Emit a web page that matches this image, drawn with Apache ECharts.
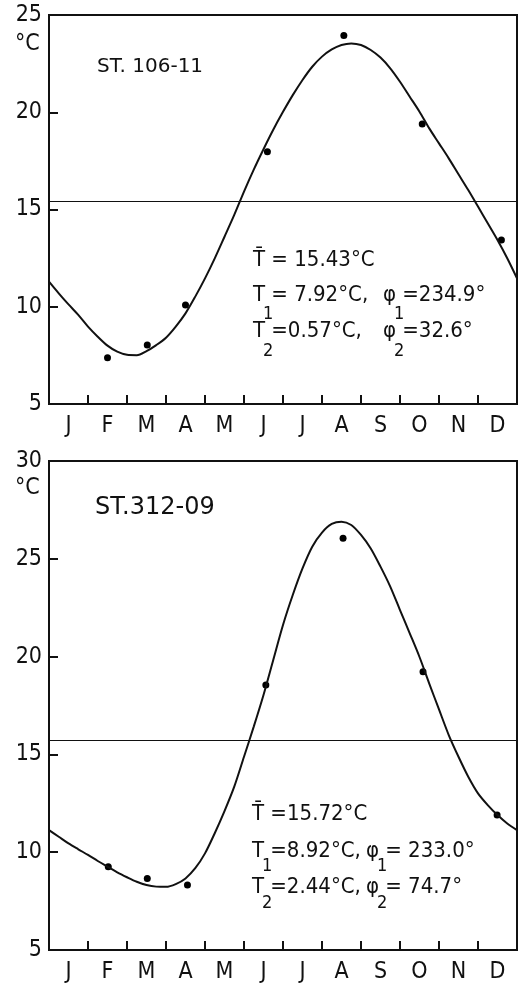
<!DOCTYPE html>
<html>
<head>
<meta charset="utf-8">
<script src="https://cdn.jsdelivr.net/npm/echarts@6/dist/echarts.min.js"></script>
<style>
  html, body { margin: 0; padding: 0; background: #fff; }
  #chart { width: 526px; height: 984px; }
</style>
</head>
<body>
<div id="chart"></div>
<script>
// Annual temperature cycles at two stations, observed monthly means + harmonic fit.
const MONTHS = ['J', 'F', 'M', 'A', 'M', 'J', 'J', 'A', 'S', 'O', 'N', 'D'];

// curve positions (months from 1 Jan), read every quarter month
const FIT_MONTH = [0, 0.25, 0.5, 0.75, 1, 1.25, 1.5, 1.75, 2, 2.25, 2.5, 2.75, 3, 3.25, 3.5, 3.75,
                   4, 4.25, 4.5, 4.75, 5, 5.25, 5.5, 5.75, 6, 6.25, 6.5, 6.75, 7, 7.25, 7.5, 7.75,
                   8, 8.25, 8.5, 8.75, 9, 9.25, 9.5, 9.75, 10, 10.25, 10.5, 10.75, 11, 11.25, 11.5, 11.75, 12];

// ST. 106-11 (top)
const OBS_MONTH_A = [1.5, 2.52, 3.5, 5.6, 7.56, 9.57, 11.6];
const OBS_TEMP_A  = [7.38, 8.03, 10.09, 17.97, 23.94, 19.4, 13.43];
const FIT_TEMP_A  = [11.29, 10.69, 10.12, 9.58, 8.98, 8.46, 8.0, 7.69, 7.53, 7.51, 7.72, 8.03, 8.41, 8.98, 9.66, 10.52,
                     11.46, 12.49, 13.6, 14.72, 15.92, 17.05, 18.1, 19.1, 20.02, 20.88, 21.66, 22.34, 22.86, 23.23, 23.46, 23.54,
                     23.46, 23.2, 22.81, 22.26, 21.57, 20.8, 20.03, 19.17, 18.4, 17.63, 16.81, 16.0, 15.15, 14.29, 13.43, 12.49, 11.46];
const MEAN_A = 15.43;

// ST. 312-09 (bottom)
const OBS_MONTH_B = [1.52, 2.52, 3.55, 5.56, 7.54, 9.59, 11.49];
const OBS_TEMP_B  = [9.26, 8.66, 8.32, 18.55, 26.05, 19.23, 11.9];
const FIT_TEMP_B  = [11.13, 10.79, 10.45, 10.15, 9.86, 9.55, 9.26, 8.97, 8.72, 8.49, 8.32, 8.24, 8.23, 8.37, 8.66, 9.18,
                     9.94, 10.97, 12.1, 13.35, 14.88, 16.42, 18.04, 19.83, 21.62, 23.15, 24.51, 25.62, 26.34, 26.78, 26.9, 26.73,
                     26.22, 25.53, 24.6, 23.58, 22.38, 21.19, 19.98, 18.62, 17.3, 15.99, 14.88, 13.86, 13.01, 12.41, 11.9, 11.47, 11.13];
const MEAN_B = 15.72;

const FONT = '"DejaVu Sans Condensed", "DejaVu Sans", sans-serif';
const LABEL_FONT = '"DejaVu Sans", sans-serif';
const INK = '#111';

function pairs(xs, ys) { return xs.map((x, i) => [x, ys[i]]); }

// text measuring for the fit-parameter annotations (sub-scripted pieces)
const mctx = document.createElement('canvas').getContext('2d');
function textW(t, size) { mctx.font = size + 'px ' + FONT; return mctx.measureText(t).width; }

// each group: [x, centerY, subOffset, segments]; segment = [text, isSub]
// subscripts tuck in under the letter before them, as in the figure
function annot(groups) {
  const out = [];
  groups.forEach(([x0, cy, subDy, segs]) => {
    let x = x0;
    segs.forEach(([t, sub]) => {
      const size = sub ? 18 : 22;
      const dx = sub ? -2 : 0;
      out.push({
        type: 'text', z: 10, position: [x + dx, sub ? cy + subDy : cy],
        style: { text: t, x: 0, y: 0, font: size + 'px ' + FONT, fill: INK, verticalAlign: 'middle' },
      });
      x += sub ? textW(t, size) * 0.6 : textW(t, size);
    });
  });
  return out;
}

const annotations = annot([
  [253, 260, 0,  [['T\u0304 = 15.43°C']]],
  [253, 295, 19, [['T'], ['1', true], ['= 7.92°C,']]],
  [383, 295, 19, [['φ'], ['1', true], ['=234.9°']]],
  [253, 331, 20, [['T'], ['2', true], ['=0.57°C,']]],
  [383, 331, 20, [['φ'], ['2', true], ['=32.6°']]],
  [252, 814, 0,  [['T\u0304 =15.72°C']]],
  [252, 851, 15, [['T'], ['1', true], ['=8.92°C,']]],
  [366, 851, 15, [['φ'], ['1', true], ['= 233.0°']]],
  [252, 887, 16, [['T'], ['2', true], ['=2.44°C,']]],
  [366, 887, 16, [['φ'], ['2', true], ['= 74.7°']]],
]);

function valueX(gi) {
  return {
    type: 'value', gridIndex: gi, min: 0, max: 12, interval: 1,
    axisLine: { show: true, lineStyle: { color: INK, width: 2 } },
    axisTick: { show: true, inside: true, length: 9, lineStyle: { color: INK, width: 2 } },
    axisLabel: { show: false }, splitLine: { show: false },
  };
}
function monthX(gi) {
  return {
    type: 'category', gridIndex: gi, data: MONTHS, boundaryGap: true, position: 'bottom',
    axisLine: { show: false }, axisTick: { show: false }, splitLine: { show: false },
    axisLabel: { color: INK, fontSize: 23, fontFamily: FONT, margin: 11, interval: 0 },
  };
}
function tempY(gi, max) {
  return {
    type: 'value', gridIndex: gi, min: 5, max: max, interval: 5,
    axisLine: { show: true, lineStyle: { color: INK, width: 2 } },
    axisTick: { show: true, inside: true, length: 9, lineStyle: { color: INK, width: 2 } },
    axisLabel: { color: INK, fontSize: 23, fontFamily: FONT, margin: 7 },
    splitLine: { show: false },
  };
}
function panelSeries(xi, yi, fitT, obsM, obsT, mean) {
  return [
    {
      type: 'line', xAxisIndex: xi, yAxisIndex: yi, data: pairs(FIT_MONTH, fitT),
      smooth: 0.3, showSymbol: false, lineStyle: { color: INK, width: 2 }, silent: true,
      markLine: {
        silent: true, symbol: 'none', label: { show: false },
        lineStyle: { color: INK, width: 1.2, type: 'solid' },
        data: [{ yAxis: mean }],
      },
    },
    {
      type: 'scatter', xAxisIndex: xi, yAxisIndex: yi, data: pairs(obsM, obsT),
      symbol: 'circle', symbolSize: 7, itemStyle: { color: '#000', opacity: 1 }, silent: true,
    },
  ];
}

const chart = echarts.init(document.getElementById('chart'), null, { renderer: 'canvas' });
chart.setOption({
  animation: false,
  backgroundColor: '#fff',
  grid: [
    { left: 49, top: 15, width: 468, height: 389, show: true, borderColor: INK, borderWidth: 2, outerBoundsMode: 'none' },
    { left: 49, top: 461, width: 468, height: 489, show: true, borderColor: INK, borderWidth: 2, outerBoundsMode: 'none' },
  ],
  xAxis: [valueX(0), monthX(0), valueX(1), monthX(1)],
  yAxis: [tempY(0, 25), tempY(1, 30)],
  series: [
    ...panelSeries(0, 0, FIT_TEMP_A, OBS_MONTH_A, OBS_TEMP_A, MEAN_A),
    ...panelSeries(2, 1, FIT_TEMP_B, OBS_MONTH_B, OBS_TEMP_B, MEAN_B),
  ],
  graphic: [
    { type: 'text', position: [15, 44], style: { text: '°C', font: '23px ' + FONT, fill: INK, verticalAlign: 'middle' } },
    { type: 'text', position: [15, 488], style: { text: '°C', font: '23px ' + FONT, fill: INK, verticalAlign: 'middle' } },
    { type: 'text', position: [97, 67], style: { text: 'ST. 106-11', font: '20px ' + LABEL_FONT, fill: INK, verticalAlign: 'middle' } },
    { type: 'text', position: [95, 508], style: { text: 'ST.312-09', font: '24px ' + LABEL_FONT, fill: INK, verticalAlign: 'middle' } },
    ...annotations,
  ],
});
</script>
</body>
</html>
